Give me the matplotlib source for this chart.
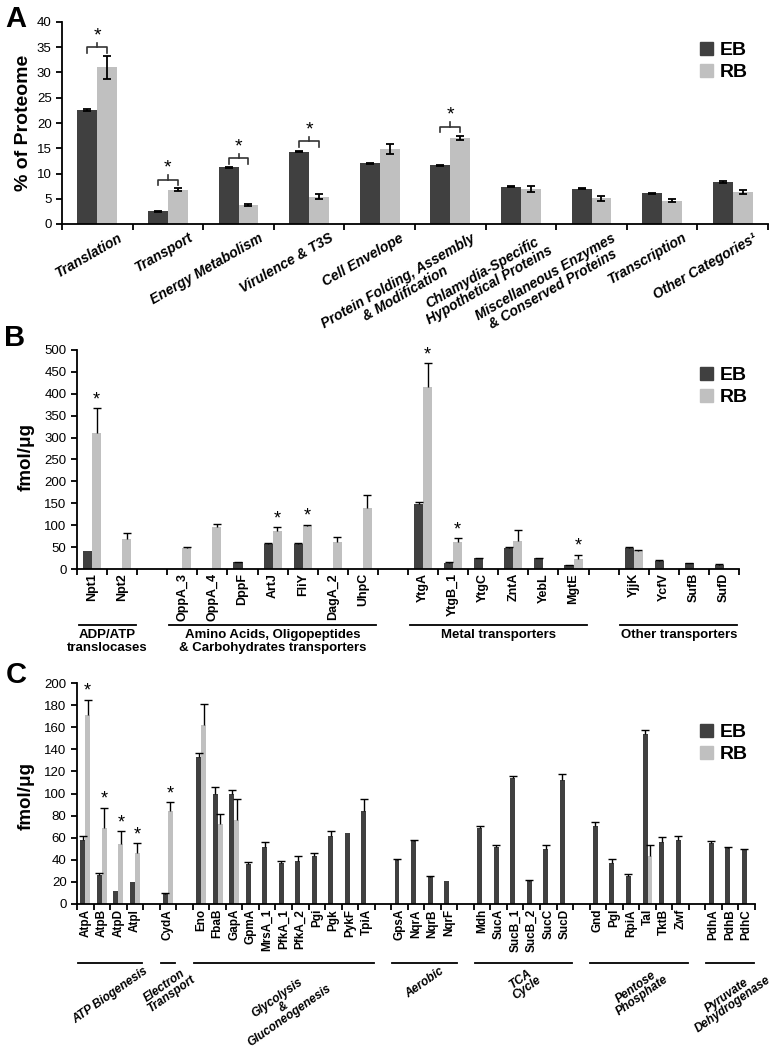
import numpy as np
import matplotlib
matplotlib.use("Agg")
import matplotlib.pyplot as plt
from matplotlib.patches import Patch
from matplotlib.transforms import blended_transform_factory

plt.rcParams['font.family'] = ['Liberation Sans', 'DejaVu Sans']

EB_COLOR = '#404040'
RB_COLOR = '#c0c0c0'

# ---- panel A: % of proteome
a_categories = ['Translation', 'Transport', 'Energy Metabolism', 'Virulence & T3S',
                'Cell Envelope', 'Protein Folding, Assembly\n& Modification',
                'Chlamydia-Specific\nHypothetical Proteins',
                'Miscellaneous Enzymes\n& Conserved Proteins', 'Transcription',
                'Other Categories\u00b9']
a_eb = [22.6, 2.5, 11.2, 14.35, 12.0, 11.6, 7.4, 7.0, 6.1, 8.4]
a_eb_err = [0.15, 0.1, 0.1, 0.15, 0.1, 0.05, 0.1, 0.15, 0.1, 0.2]
a_rb = [31.05, 6.8, 3.75, 5.4, 14.85, 17.0, 6.9, 5.05, 4.6, 6.4]
a_rb_err = [2.3, 0.3, 0.25, 0.5, 1.0, 0.4, 0.6, 0.45, 0.3, 0.4]
a_bracket = [35.0, 8.8, 13.0, 16.4, None, 19.3, None, None, None, None]

# ---- panel B: transporters ('' = gap between groups)
b_genes = ['Npt1', 'Npt2', '', 'OppA_3', 'OppA_4', 'DppF', 'ArtJ', 'FliY', 'DagA_2', 'UhpC', '',
           'YtgA', 'YtgB_1', 'YtgC', 'ZntA', 'YebL', 'MgtE', '', 'YjjK', 'YcfV', 'SufB', 'SufD']
b_eb = [40, None, None, None, None, 16, 58, 56, None, None, None,
        148, 14, 25, 47, 25, 8, None, 48, 19, 13, 10]
b_eb_err = [0, None, None, None, None, 1, 1, 4, None, None, None,
            5, 1, 1, 4, 1, 1, None, 2, 1, 1, 1]
b_rb = [310, 68, None, 48, 96, None, 87, 98, 62, 140, None,
        415, 61, None, 64, None, 22, None, 42, None, None, None]
b_rb_err = [57, 14, None, 2, 6, None, 8, 3, 10, 30, None,
            55, 9, None, 24, None, 10, None, 1, None, None, None]
b_star = ['Npt1', 'ArtJ', 'FliY', 'YtgA', 'YtgB_1', 'MgtE']
b_groups = ['ADP/ATP\ntranslocases', 'Amino Acids, Oligopeptides\n& Carbohydrates transporters',
            'Metal transporters', 'Other transporters']

# ---- panel C: metabolism
c_genes = ['AtpA', 'AtpB', 'AtpD', 'AtpI', '', 'CydA', '',
           'Eno', 'FbaB', 'GapA', 'GpmA', 'MrsA_1', 'PfkA_1', 'PfkA_2', 'Pgi', 'Pgk', 'PykF', 'TpiA', '',
           'GpsA', 'NqrA', 'NqrB', 'NqrF', '',
           'Mdh', 'SucA', 'SucB_1', 'SucB_2', 'SucC', 'SucD', '',
           'Gnd', 'Pgl', 'RpiA', 'Tal', 'TktB', 'Zwf', '',
           'PdhA', 'PdhB', 'PdhC']
c_eb = [57.8, 26, 11.7, 20, None, 8.7, None,
        133, 99.3, 100, 36, 52, 37, 39, 43.6, 61.7, 64.7, 84.3, None,
        39.7, 57, 24.7, 21, None,
        69, 51.8, 114, 21, 49.4, 112, None,
        70.7, 37.3, 25.3, 154, 56.3, 57.8, None,
        54.8, 50.9, 49.4]
c_eb_err = [4, 2.5, 0, 0, None, 1, None,
            3.5, 7, 3.5, 2, 4, 1.5, 4, 3, 4, 0, 11, None,
            1, 0.5, 1, 0, None,
            2, 2, 2, 0.5, 4, 6, None,
            3.5, 3, 1.5, 3.6, 4, 3.6, None,
            2, 1, 0.5]
c_rb = [170.7, 69, 54, 46, None, 84, None,
        162, 72, 76, None, None, None, None, None, None, None, None, None,
        None, None, None, None, None,
        None, None, None, None, None, None, None,
        None, None, None, 43.3, None, None, None,
        None, None, None]
c_rb_err = [14, 18, 12, 9, None, 8, None,
            19, 9, 19, None, None, None, None, None, None, None, None, None,
            None, None, None, None, None,
            None, None, None, None, None, None, None,
            None, None, None, 10.5, None, None, None,
            None, None, None]
c_star = ['AtpA', 'AtpB', 'AtpD', 'AtpI', 'CydA']
c_groups = ['ATP Biogenesis', 'Electron\nTransport', 'Glycolysis\n&\nGluconeogenesis',
            'Aerobic', 'TCA\nCycle', 'Pentose\nPhosphate', 'Pyruvate\nDehydrogenase']

W, H = 775.0, 1050.0
fig = plt.figure(figsize=(W / 100, H / 100), dpi=100)


def px_axes(left, top, right, bottom):
    return fig.add_axes([left / W, 1 - bottom / H, (right - left) / W, (bottom - top) / H])


def style_axes(ax, n_slots, ymax, ystep):
    ax.set_xlim(0, n_slots)
    ax.set_ylim(0, ymax)
    ax.set_yticks(np.arange(0, ymax + 1, ystep))
    ax.set_xticks(np.arange(0, n_slots + 1))
    ax.set_xticklabels([])
    for s in ['top', 'right']:
        ax.spines[s].set_visible(False)
    for s in ['left', 'bottom']:
        ax.spines[s].set_linewidth(1.3)
    ax.tick_params(axis='both', direction='out', length=4, width=1.3, labelsize=9.5)


def bars(ax, values, offset, color, width):
    xs = [i + 0.5 + offset for i, v in enumerate(values) if v is not None]
    hs = [v for v in values if v is not None]
    ax.bar(xs, hs, width=width, color=color, edgecolor='none', zorder=2)


def up_errors(ax, values, errs, offset):
    xs, lo, hi = [], [], []
    for i, (v, e) in enumerate(zip(values, errs)):
        if v is not None and e:
            xs.append(i + 0.5 + offset)
            lo.append(v)
            hi.append(v + e)
    ax.vlines(xs, lo, hi, color='black', lw=1.0, zorder=3)
    ax.plot(xs, hi, ls='none', marker='_', ms=6, mew=1.0, color='black', zorder=3)


def stars(ax, genes, values, errs, offset, starred):
    for i, g in enumerate(genes):
        if g in starred:
            top = values[i] + (errs[i] or 0)
            ax.annotate('*', xy=(i + 0.5 + offset, top), xytext=(0, 0), textcoords='offset points',
                        ha='center', va='bottom', fontsize=13)


def group_spans(genes):
    spans, start = [], 0
    for i, g in enumerate(genes + ['']):
        if g == '':
            spans.append((start, i))
            start = i + 1
    return spans


def legend_at(top_px):
    handles = [Patch(color=EB_COLOR, label='EB'), Patch(color=RB_COLOR, label='RB')]
    fig.legend(handles=handles, loc='upper left', bbox_to_anchor=(700 / W, 1 - top_px / H),
               frameon=False, prop={'weight': 'bold', 'size': 14}, handlelength=0.68,
               handleheight=0.68, handletextpad=0.32, labelspacing=0.22, borderpad=0,
               borderaxespad=0)


# ================= Panel A
ax_a = px_axes(62, 22, 768, 224)
style_axes(ax_a, len(a_categories), 40, 5)
wa = 0.283
bars(ax_a, a_eb, -wa / 2, EB_COLOR, wa)
bars(ax_a, a_rb, wa / 2, RB_COLOR, wa)
xa = np.arange(len(a_categories)) + 0.5
ax_a.errorbar(xa - wa / 2, a_eb, yerr=a_eb_err, fmt='none', ecolor='black', elinewidth=1.3,
              capsize=3, capthick=1.3, zorder=3)
ax_a.errorbar(xa + wa / 2, a_rb, yerr=a_rb_err, fmt='none', ecolor='black', elinewidth=1.3,
              capsize=3, capthick=1.3, zorder=3)
for i, b in enumerate(a_bracket):
    if b is None:
        continue
    ax_a.plot([xa[i] - wa / 2, xa[i] - wa / 2, xa[i] + wa / 2, xa[i] + wa / 2],
              [b - 1.1, b, b, b - 1.1], color='#333333', lw=1.2)
    ax_a.plot([xa[i], xa[i]], [b, b + 0.9], color='#333333', lw=1.2)
    ax_a.text(xa[i], b + 0.6, '*', ha='center', va='bottom', fontsize=14)
tr_a = blended_transform_factory(ax_a.transData, fig.transFigure)
for i, name in enumerate(a_categories):
    ax_a.text(xa[i] + 0.28, 1 - 231 / H, name, transform=tr_a, rotation=30,
              rotation_mode='anchor', ha='right', va='top', multialignment='center',
              fontsize=10, fontweight='bold', style='italic', linespacing=1.05)
fig.text(24 / W, 1 - 123 / H, '% of Proteome', rotation=90, ha='center', va='center',
         fontsize=14, fontweight='bold')
fig.text(16 / W, 1 - 19 / H, 'A', ha='center', va='center', fontsize=21, fontweight='bold')
legend_at(42)

# ================= Panel B
ax_b = px_axes(77, 350, 739, 569)
style_axes(ax_b, len(b_genes), 500, 50)
wb = 0.3
bars(ax_b, b_eb, -wb / 2, EB_COLOR, wb)
bars(ax_b, b_rb, wb / 2, RB_COLOR, wb)
up_errors(ax_b, b_eb, b_eb_err, -wb / 2)
up_errors(ax_b, b_rb, b_rb_err, wb / 2)
stars(ax_b, b_genes, b_rb, b_rb_err, wb / 2, b_star)
tr_b = blended_transform_factory(ax_b.transData, fig.transFigure)
for i, g in enumerate(b_genes):
    if g:
        ax_b.text(i + 0.5, 1 - 573 / H, g, transform=tr_b, rotation=90, ha='center', va='top',
                  fontsize=9, fontweight='bold')
for (s, e), name in zip(group_spans(b_genes), b_groups):
    ax_b.plot([s + 0.05, e - 0.05], [1 - 625 / H] * 2, transform=tr_b, color='black', lw=1.3,
              clip_on=False)
    ax_b.text((s + e) / 2, 1 - 629 / H, name, transform=tr_b, ha='center', va='top',
              multialignment='center', fontsize=9.5, fontweight='bold', linespacing=1.15)
fig.text(26 / W, 1 - 457 / H, 'fmol/\u03bcg', rotation=90, ha='center', va='center',
         fontsize=13.5, fontweight='bold')
fig.text(15 / W, 1 - 338 / H, 'B', ha='center', va='center', fontsize=21, fontweight='bold')
legend_at(367)

# ================= Panel C
ax_c = px_axes(77, 683, 755, 904)
style_axes(ax_c, len(c_genes), 200, 20)
wc = 0.3
bars(ax_c, c_eb, -wc / 2, EB_COLOR, wc)
bars(ax_c, c_rb, wc / 2, RB_COLOR, wc)
up_errors(ax_c, c_eb, c_eb_err, -wc / 2)
up_errors(ax_c, c_rb, c_rb_err, wc / 2)
stars(ax_c, c_genes, c_rb, c_rb_err, wc / 2, c_star)
tr_c = blended_transform_factory(ax_c.transData, fig.transFigure)
for i, g in enumerate(c_genes):
    if g:
        ax_c.text(i + 0.5, 1 - 909 / H, g, transform=tr_c, rotation=90, ha='center', va='top',
                  fontsize=8.5, fontweight='bold')
for (s, e), name in zip(group_spans(c_genes), c_groups):
    ax_c.plot([s + 0.05, e - 0.05], [1 - 963 / H] * 2, transform=tr_c, color='black', lw=1.3,
              clip_on=False)
    ax_c.text((s + e) / 2, 1 - 965 / H, name, transform=tr_c, rotation=35, ha='center', va='top',
              multialignment='center', fontsize=8.6, fontweight='bold', style='italic',
              linespacing=0.85)
fig.text(26 / W, 1 - 796 / H, 'fmol/\u03bcg', rotation=90, ha='center', va='center',
         fontsize=13.5, fontweight='bold')
fig.text(16 / W, 1 - 675 / H, 'C', ha='center', va='center', fontsize=21, fontweight='bold')
legend_at(724)

fig.savefig('out.png', dpi=100)
